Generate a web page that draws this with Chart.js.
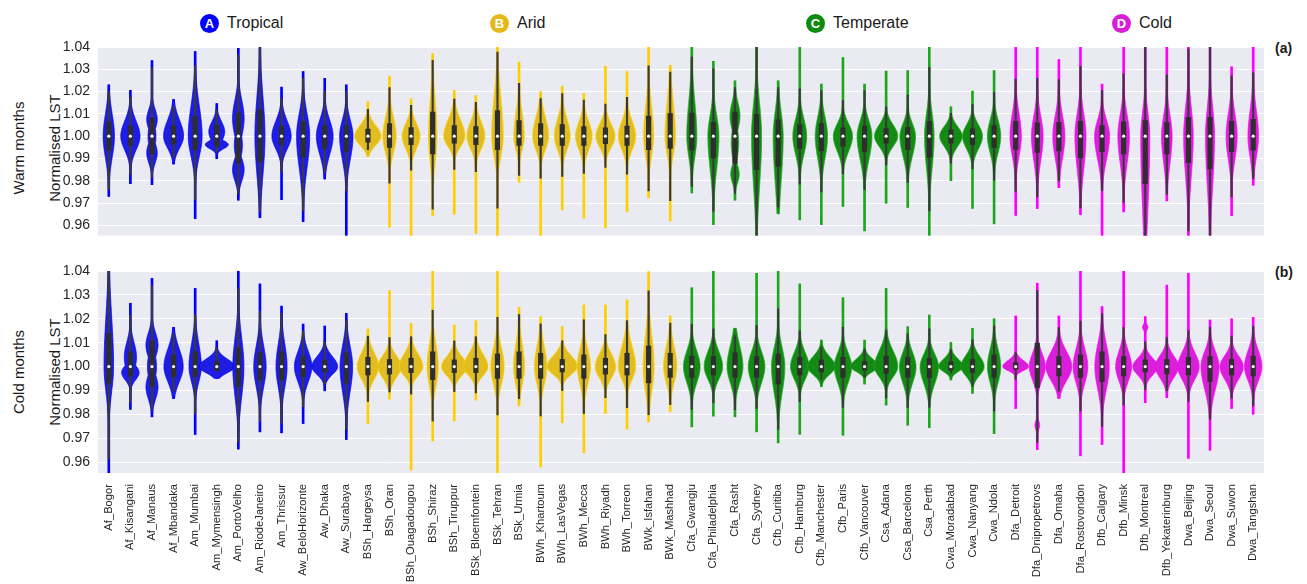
<!DOCTYPE html>
<html>
<head>
<meta charset="utf-8">
<script src="https://cdn.jsdelivr.net/npm/chart.js@4.4.1/dist/chart.umd.min.js"></script>
<style>
  html, body { margin: 0; padding: 0; background: #fff; }
  #page { position: relative; width: 1307px; height: 584px; overflow: hidden; font-family: "Liberation Sans", Arial, sans-serif; color: #1a1a1a; }
  .panel { position: absolute; left: 0; width: 1307px; }
  .zone { position: absolute; top: 13px; height: 20px; display: flex; align-items: center; font-size: 16px; }
  .badge { width: 19px; height: 19px; border-radius: 50%; color: #fff; font-weight: bold; font-size: 13px;
           display: flex; align-items: center; justify-content: center; margin-right: 8px; }
  .vtitle { position: absolute; transform: translate(-50%, -50%) rotate(-90deg); white-space: nowrap; font-size: 15px; }
  .tag { position: absolute; left: 1275px; font-weight: bold; font-size: 14px; }
</style>
</head>
<body>
<div id="page">
  <div class="zone" style="left:200px"><span class="badge" style="background:#0000ff">A</span>Tropical</div>
  <div class="zone" style="left:490px"><span class="badge" style="background:#e6b818">B</span>Arid</div>
  <div class="zone" style="left:806px"><span class="badge" style="background:#0e8a0e">C</span>Temperate</div>
  <div class="zone" style="left:1112px"><span class="badge" style="background:#d91ed9">D</span>Cold</div>

  <div class="vtitle" style="left:18px; top:148px">Warm months</div>
  <div class="vtitle" style="left:54px; top:148px">Normalised LST</div>
  <div class="vtitle" style="left:18px; top:372px">Cold months</div>
  <div class="vtitle" style="left:54px; top:372px">Normalised LST</div>
  <div class="tag" style="top:40px">(a)</div>
  <div class="tag" style="top:264px">(b)</div>

  <div class="panel" style="top:0; height:252px"><canvas id="warm" width="1307" height="252"></canvas></div>
  <div class="panel" style="top:250px; height:334px"><canvas id="cold" width="1307" height="334"></canvas></div>
</div>

<script>
// Städte (Kategorien)
const cities = ['Af_Bogor','Af_Kisangani','Af_Manaus','Af_Mbandaka','Am_Mumbai','Am_Mymensingh','Am_PortoVelho','Am_RiodeJaneiro','Am_Thrissur','Aw_BeloHorizonte','Aw_Dhaka','Aw_Surabaya',
  'BSh_Hargeysa','BSh_Oran','BSh_Ouagadougou','BSh_Shiraz','BSh_Tiruppur','BSk_Bloemfontein','BSk_Tehran','BSk_Urmia','BWh_Khartoum','BWh_LasVegas','BWh_Mecca','BWh_Riyadh','BWh_Torreon','BWk_Isfahan','BWk_Mashhad',
  'Cfa_Gwangju','Cfa_Philadelphia','Cfa_Rasht','Cfa_Sydney','Cfb_Curitiba','Cfb_Hamburg','Cfb_Manchester','Cfb_Paris','Cfb_Vancouver','Csa_Adana','Csa_Barcelona','Csa_Perth','Cwa_Moradabad','Cwa_Nanyang','Cwa_Ndola',
  'Dfa_Detroit','Dfa_Dnipropetrovs','Dfa_Omaha','Dfa_Rostovondon','Dfb_Calgary','Dfb_Minsk','Dfb_Montreal','Dfb_Yekaterinburg','Dwa_Beijing','Dwa_Seoul','Dwa_Suwon','Dwa_Tangshan'];

const lstTicks = [0.96, 0.97, 0.98, 0.99, 1.00, 1.01, 1.02, 1.03, 1.04];

// Warme Monate (a)
const warmMin = [0.973,0.9787,0.9783,0.9875,0.963,0.9899,0.9713,0.9634,0.9715,0.9616,0.9808,0.950,
  0.9909,0.9592,0.950,0.9643,0.965,0.9565,0.950,0.9794,0.950,0.9669,0.9632,0.9589,0.966,0.9724,0.962,
  0.9745,0.9603,0.9713,0.950,0.9652,0.9624,0.9603,0.9685,0.9575,0.9699,0.968,0.950,0.980,0.9676,0.9606,
  0.9645,0.9676,0.9769,0.9648,0.950,0.966,0.950,0.971,0.950,0.950,0.9643,0.978];
const warmQ1 = [0.9936,0.9959,0.992,0.9964,0.994,0.9955,0.9878,0.9885,0.9962,0.9906,0.9945,0.9931,
  0.9973,0.995,0.9962,0.992,0.9969,0.9962,0.994,0.9959,0.9959,0.9959,0.9959,0.9966,0.9959,0.994,0.9945,
  0.9937,0.9902,0.9878,0.985,0.9864,0.9945,0.9934,0.9955,0.9931,0.9969,0.994,0.9906,0.9969,0.9962,0.995,
  0.9941,0.9927,0.9934,0.9903,0.9931,0.992,0.9787,0.992,0.9881,0.9853,0.9931,0.9937];
const warmMedian = [1.00,1.00,1.00,1.00,1.00,1.00,1.00,1.00,1.00,1.00,1.00,1.00,
  1.00,1.00,1.00,1.00,1.00,1.00,1.00,1.00,1.00,1.00,1.00,1.00,1.00,1.00,1.00,
  1.00,1.00,1.00,1.00,1.00,1.00,1.00,1.00,1.00,1.00,1.00,1.00,1.00,1.00,1.00,
  1.00,1.00,1.00,1.00,1.00,1.00,1.00,1.00,1.00,1.00,1.00,1.00];
const warmQ3 = [1.0066,1.0045,1.008,1.0048,1.009,1.0052,1.0104,1.0118,1.0045,1.0067,1.0048,1.0048,
  1.0032,1.0057,1.0038,1.0108,1.0048,1.0043,1.0115,1.007,1.0057,1.0052,1.0043,1.0037,1.0045,1.009,1.0101,
  1.0104,1.0062,1.0108,1.0098,1.0073,1.0052,1.0057,1.0037,1.0045,1.0034,1.0038,1.0067,1.0029,1.0034,1.0048,
  1.0067,1.006,1.0062,1.0067,1.0048,1.0064,1.007,1.0062,1.0085,1.0085,1.0067,1.0076];
const warmMax = [1.023,1.0206,1.0339,1.0164,1.038,1.0146,1.0394,1.045,1.022,1.029,1.026,1.023,
  1.0154,1.0269,1.0168,1.037,1.0206,1.0182,1.045,1.0332,1.0199,1.0224,1.0192,1.0313,1.029,1.045,1.0318,
  1.045,1.0336,1.0248,1.045,1.0248,1.045,1.0234,1.0353,1.0234,1.0292,1.0294,1.045,1.0132,1.0202,1.0294,
  1.045,1.045,1.0344,1.045,1.0234,1.045,1.045,1.045,1.045,1.045,1.0311,1.045];
// Spitzendichte der Violinen
const warmPeak = [44,75,41,78,54,62,45,39,75,51,65,52,
  103,52,70,33,83,70,45,41,62,62,65,75,68,39,41,
  39,43,39,39,39,54,48,75,58,91,61,37,88,78,52,
  44,45,47,43,58,45,35,41,37,35,43,41];
// mehrgipflige Verteilungen: [Stadt, Zentrum, Streuung, rel. Höhe]
const warmModes = [
  ['Af_Manaus', 0.9925, 0.0045, 1], ['Af_Manaus', 1.0075, 0.0045, 1], ['Af_Manaus', 1.0, 0.006, 0.75],
  ['Am_Mymensingh', 1.002, 0.0045, 1], ['Am_Mymensingh', 0.9962, 0.0018, 1.45],
  ['Am_PortoVelho', 1.008, 0.008, 1], ['Am_PortoVelho', 0.985, 0.005, 1], ['Am_PortoVelho', 0.996, 0.006, 0.7],
  ['Cfa_Rasht', 1.009, 0.006, 1], ['Cfa_Rasht', 0.983, 0.004, 0.85], ['Cfa_Rasht', 0.997, 0.007, 0.75]
];

// Kalte Monate (b)
const coldMin = [0.950,0.9821,0.979,0.9867,0.9716,0.9951,0.9655,0.9727,0.9723,0.9762,0.9899,0.9695,
  0.9762,0.9864,0.9567,0.9689,0.9773,0.986,0.950,0.9836,0.9581,0.9765,0.964,0.9804,0.9738,0.9769,0.9811,
  0.9748,0.9793,0.979,0.9727,0.9681,0.9717,0.9916,0.9713,0.9927,0.9839,0.9755,0.9745,0.9944,0.9888,0.972,
  0.9825,0.9653,0.9867,0.9627,0.9674,0.950,0.9849,0.987,0.9616,0.965,0.9825,0.9801];
const coldQ1 = [0.993,0.996,0.9916,0.9958,0.9958,0.9983,0.9916,0.9943,0.9943,0.9958,0.9978,0.993,
  0.9965,0.9969,0.9975,0.9946,0.9975,0.9975,0.9951,0.9951,0.9951,0.9978,0.9951,0.9969,0.9965,0.9932,0.9955,
  0.9955,0.9965,0.9955,0.9955,0.9927,0.9965,0.9978,0.9955,0.9986,0.9971,0.9955,0.9953,0.9986,0.9975,0.9955,
  0.9989,0.9913,0.9961,0.9955,0.9937,0.9961,0.9978,0.9969,0.9965,0.9937,0.9965,0.9961];
const coldMedian = [1.00,1.00,1.00,1.00,1.00,1.00,1.00,1.00,1.00,1.00,1.00,1.00,
  1.00,1.00,1.00,1.00,1.00,1.00,1.00,1.00,1.00,1.00,1.00,1.00,1.00,1.00,1.00,
  1.00,1.00,1.00,1.00,1.00,1.00,1.00,1.00,1.00,1.00,1.00,1.00,1.00,1.00,1.00,
  1.00,1.00,1.00,1.00,1.00,1.00,1.00,1.00,1.00,1.00,1.00,1.00];
const coldQ3 = [1.0139,1.0062,1.0108,1.0049,1.0062,1.0021,1.008,1.0058,1.0062,1.0042,1.0028,1.0058,
  1.0039,1.003,1.0035,1.0062,1.0028,1.0035,1.0053,1.0062,1.0056,1.003,1.0049,1.0035,1.0056,1.0086,1.0056,
  1.0044,1.0042,1.0058,1.0042,1.0053,1.0039,1.0028,1.0039,1.0021,1.0044,1.0039,1.0035,1.0021,1.003,1.0049,
  1.0017,1.0098,1.0042,1.0049,1.0062,1.0042,1.0028,1.003,1.0039,1.0042,1.003,1.0044];
const coldMax = [1.045,1.0265,1.0369,1.0164,1.0327,1.0108,1.045,1.0346,1.0253,1.0178,1.017,1.0223,
  1.0157,1.0318,1.0181,1.045,1.0174,1.0192,1.045,1.0248,1.0209,1.0167,1.0258,1.0258,1.0279,1.0397,1.0212,
  1.033,1.045,1.016,1.039,1.045,1.0346,1.0111,1.0288,1.0111,1.0327,1.0167,1.0216,1.0101,1.016,1.020,
  1.0212,1.0349,1.0212,1.040,1.0251,1.045,1.0209,1.0341,1.039,1.0195,1.020,1.0206];
const coldPeak = [37,68,47,75,48,140,43,48,43,68,101,49,
  84,91,93,44,100,95,52,43,49,119,52,80,68,43,52,
  65,72,62,65,52,72,109,68,109,91,65,72,97,91,52,
  101,62,101,57,56,62,97,91,84,70,91,68];
const coldModes = [
  ['Af_Kisangani', 0.9975, 0.003, 1], ['Af_Kisangani', 1.004, 0.006, 0.7],
  ['Af_Manaus', 1.009, 0.005, 1], ['Af_Manaus', 0.9915, 0.005, 1], ['Af_Manaus', 1.0, 0.006, 0.75],
  ['Dfa_Dnipropetrovs', 1.0, 0.0055, 1], ['Dfa_Dnipropetrovs', 0.9755, 0.0018, 0.3],
  ['Dfb_Montreal', 1.0, 0.0035, 1], ['Dfb_Montreal', 1.0165, 0.0012, 0.22]
];

// Farben je Klimazone (erster Buchstabe des Köppen-Codes)
const ZONE = {
  A: { fill: '#1d1de4', edge: '#0000ff' },
  B: { fill: '#e2bd22', edge: '#ffd000' },
  C: { fill: '#138a13', edge: '#1fa81f' },
  D: { fill: '#d91fd9', edge: '#ff00ff' }
};
const VIOLIN_HALF = 0.83;   // max. halbe Breite in Kategorien
const KDE_CUT = 0.003;      // KDE reicht etwas über die Daten hinaus
const densityMax = Math.max(...warmPeak, ...coldPeak);

function whiskers(q1, q3, lo, hi) {
  return q1.map((a, i) => {
    const iqr = q3[i] - a;
    return [Math.max(lo[i] + KDE_CUT, a - 1.5 * iqr), Math.min(hi[i] - KDE_CUT, q3[i] + 1.5 * iqr)];
  });
}

// Dichte der Violine an Stelle v
function density(p, i, v) {
  const comps = p.modes.filter(m => m[0] === cities[i]);
  if (comps.length) {
    let d = 0;
    comps.forEach(m => { d = Math.max(d, m[3] * Math.exp(-0.5 * ((v - m[1]) / m[2]) ** 2)); });
    return p.peak[i] * d;
  }
  const m = p.median[i];
  const s = v < m ? (m - p.q1[i]) / 0.6745 : (p.q3[i] - m) / 0.6745;
  return p.peak[i] * Math.exp(-0.5 * ((v - m) / s) ** 2);
}

// Violinen nach dem Zeichnen der Ausläufer einfügen
function violinLayer(p) {
  return {
    id: 'violins',
    beforeDraw(chart) {
      const { ctx, chartArea: a } = chart;
      ctx.save();
      ctx.fillStyle = '#eaeaf2';
      ctx.fillRect(a.left, a.top, a.right - a.left, a.bottom - a.top);
      ctx.restore();
    },
    afterDatasetDraw(chart, args) {
      if (args.index !== 0) return;
      const { ctx, chartArea: a } = chart;
      const x = chart.scales.x, y = chart.scales.y;
      const catW = x.getPixelForValue(1) - x.getPixelForValue(0);
      const pxPerDens = catW * VIOLIN_HALF / densityMax;
      ctx.save();
      ctx.beginPath();
      ctx.rect(a.left, a.top, a.right - a.left, a.bottom - a.top);
      ctx.clip();
      cities.forEach((c, i) => {
        const cx = x.getPixelForValue(i);
        const lo = p.min[i], hi = p.max[i];
        const steps = 200;
        const pts = [];
        for (let k = 0; k <= steps; k++) {
          const v = lo + (hi - lo) * k / steps;
          pts.push([y.getPixelForValue(v), density(p, i, v) * pxPerDens]);
        }
        ctx.beginPath();
        pts.forEach(([py, w], k) => k ? ctx.lineTo(cx - w, py) : ctx.moveTo(cx - w, py));
        for (let k = pts.length - 1; k >= 0; k--) ctx.lineTo(cx + pts[k][1], pts[k][0]);
        ctx.closePath();
        ctx.fillStyle = ZONE[c[0]].fill;
        ctx.fill();
        ctx.lineWidth = 0.8;
        ctx.strokeStyle = ZONE[c[0]].edge;
        ctx.stroke();
      });
      ctx.restore();
    }
  };
}

function createPanel(canvasId, p) {
  const ctx = document.getElementById(canvasId).getContext('2d');
  return new Chart(ctx, {
    type: 'bar',
    data: {
      labels: cities,
      datasets: [
        {
          label: 'Ausläufer',
          data: p.min.map((v, i) => [v, p.max[i]]),
          backgroundColor: cities.map(c => ZONE[c[0]].edge),
          barThickness: 2, grouped: false, order: 4
        },
        {
          label: 'Whisker',
          data: whiskers(p.q1, p.q3, p.min, p.max),
          backgroundColor: '#3a3a3a',
          barThickness: 1.5, grouped: false, order: 2
        },
        {
          label: 'IQR',
          data: p.q1.map((v, i) => [v, p.q3[i]]),
          backgroundColor: '#2e2e2e',
          barThickness: 4.5, grouped: false, order: 1
        },
        {
          type: 'line',
          label: 'Median',
          data: p.median,
          showLine: false,
          pointRadius: 1.6,
          pointBackgroundColor: '#ffffff',
          pointBorderWidth: 0,
          order: 0
        }
      ]
    },
    options: {
      responsive: false,
      animation: false,
      layout: { padding: { left: 0, right: 43, top: p.padTop, bottom: p.padBottom } },
      plugins: {
        legend: { display: false },
        tooltip: { enabled: false }
      },
      scales: {
        x: {
          type: 'category',
          offset: true,
          display: p.showX,
          grid: { display: false },
          border: { display: false },
          ticks: {
            autoSkip: false, minRotation: 90, maxRotation: 90, padding: 3,
            color: '#262626', font: { family: 'Liberation Sans', size: 11.2 }
          },
          afterFit: s => { s.height = p.xHeight; }
        },
        y: {
          min: p.yMin,
          max: 1.04,
          grid: { color: '#ffffff', lineWidth: 1, drawTicks: false },
          border: { display: false },
          ticks: {
            padding: 8, color: '#262626', font: { family: 'Liberation Sans', size: 14 },
            callback: v => v.toFixed(2)
          },
          afterBuildTicks: s => { s.ticks = lstTicks.map(v => ({ value: v })); },
          afterFit: s => { s.width = 98; }
        }
      }
    },
    plugins: [violinLayer(p)]
  });
}

createPanel('warm', {
  min: warmMin, q1: warmQ1, median: warmMedian, q3: warmQ3, max: warmMax,
  peak: warmPeak, modes: warmModes,
  yMin: 0.9554, padTop: 47, padBottom: 3, showX: false, xHeight: 0
});
createPanel('cold', {
  min: coldMin, q1: coldQ1, median: coldMedian, q3: coldQ3, max: coldMax,
  peak: coldPeak, modes: coldModes,
  yMin: 0.9555, padTop: 21, padBottom: 0, showX: true, xHeight: 111
});
</script>
</body>
</html>
